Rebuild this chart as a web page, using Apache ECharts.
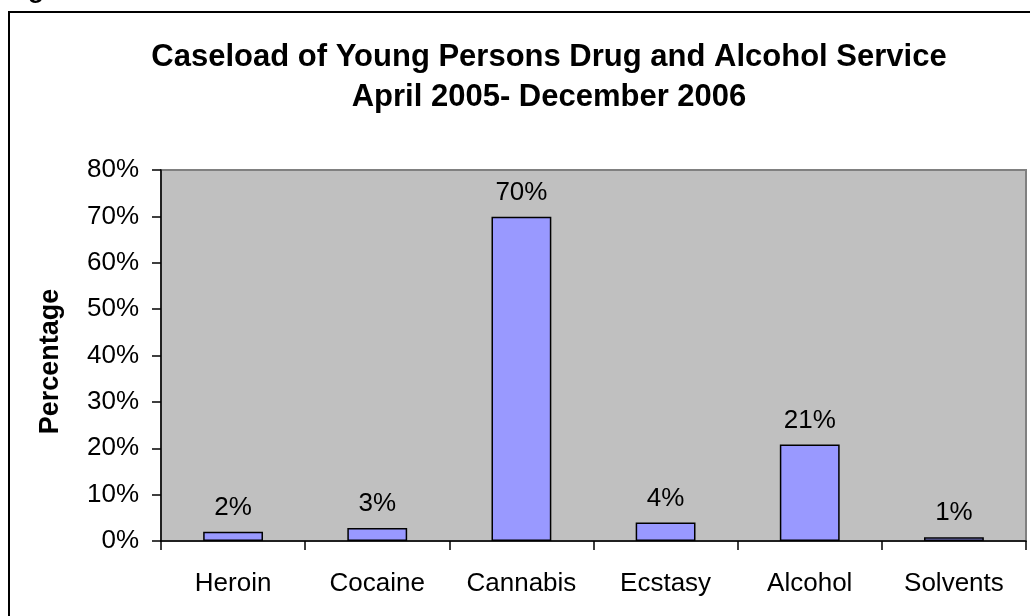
<!DOCTYPE html>
<html>
<head>
<meta charset="utf-8">
<script src="https://cdn.jsdelivr.net/npm/echarts@6/dist/echarts.min.js"></script>
<style>
html,body{margin:0;padding:0;background:#fff;}
#chart{width:1030px;height:616px;}
</style>
</head>
<body>
<div id="chart"></div>
<script>
var categories = ['Heroin', 'Cocaine', 'Cannabis', 'Ecstasy', 'Alcohol', 'Solvents'];
var values = [2.0, 2.8, 69.9, 4.0, 20.8, 0.8];
var titleLines = ['Caseload of Young Persons Drug and Alcohol Service', 'April 2005- December 2006'];
var yAxisName = 'Percentage';
var yMin = 0, yMax = 80, yStep = 10;

var FONT = 'Liberation Sans, Arial, sans-serif';
var chart = echarts.init(document.getElementById('chart'), null, {renderer: 'canvas'});
chart.setOption({
  animation: false,
  backgroundColor: '#ffffff',
  title: {
    text: titleLines.join('\n'),
    left: 544,
    top: 32,
    textAlign: 'center',
    textStyle: {fontFamily: FONT, fontWeight: 'bold', fontSize: 31, lineHeight: 40, color: '#000'}
  },
  graphic: [
    {type: 'rect', shape: {x: 9, y: 12, width: 1040, height: 640}, style: {fill: 'none', stroke: '#000', lineWidth: 2}, z: 100},
    {type: 'text', x: 5, y: -22, style: {text: 'Figure', font: 'bold 26px ' + FONT, fill: '#000', verticalAlign: 'top'}, z: 100}
  ],
  grid: {
    left: 161, top: 170, right: 4, bottom: 75,
    show: true, backgroundColor: '#C0C0C0', borderColor: '#808080', borderWidth: 2
  },
  xAxis: {
    type: 'category',
    data: categories,
    boundaryGap: true,
    axisLine: {lineStyle: {color: '#000', width: 1.5}},
    axisTick: {show: true, alignWithLabel: false, length: 9, lineStyle: {color: '#000', width: 1.5}},
    axisLabel: {fontFamily: FONT, fontSize: 26, color: '#000', margin: 30, interval: 0},
    splitLine: {show: false}
  },
  yAxis: {
    type: 'value',
    min: yMin, max: yMax, interval: yStep,
    name: yAxisName,
    nameLocation: 'middle',
    nameRotate: 90,
    nameGap: 97,
    nameTextStyle: {fontFamily: FONT, fontWeight: 'bold', fontSize: 27, color: '#000', padding: [0, 12, 0, 0]},
    axisLine: {show: true, lineStyle: {color: '#000', width: 1.5}},
    axisTick: {show: true, length: 9, lineStyle: {color: '#000', width: 1.5}},
    axisLabel: {fontFamily: FONT, fontSize: 26, color: '#000', margin: 22, formatter: '{value}%'},
    splitLine: {show: false}
  },
  series: [{
    type: 'bar',
    data: values,
    barWidth: '41.5%',
    itemStyle: {color: '#9999FF', borderColor: '#000', borderWidth: 1.5},
    label: {
      show: true, position: 'top', distance: 11,
      fontFamily: FONT, fontSize: 26, color: '#000',
      formatter: function (p) { return Math.round(p.value) + '%'; }
    }
  }]
});
</script>
</body>
</html>
